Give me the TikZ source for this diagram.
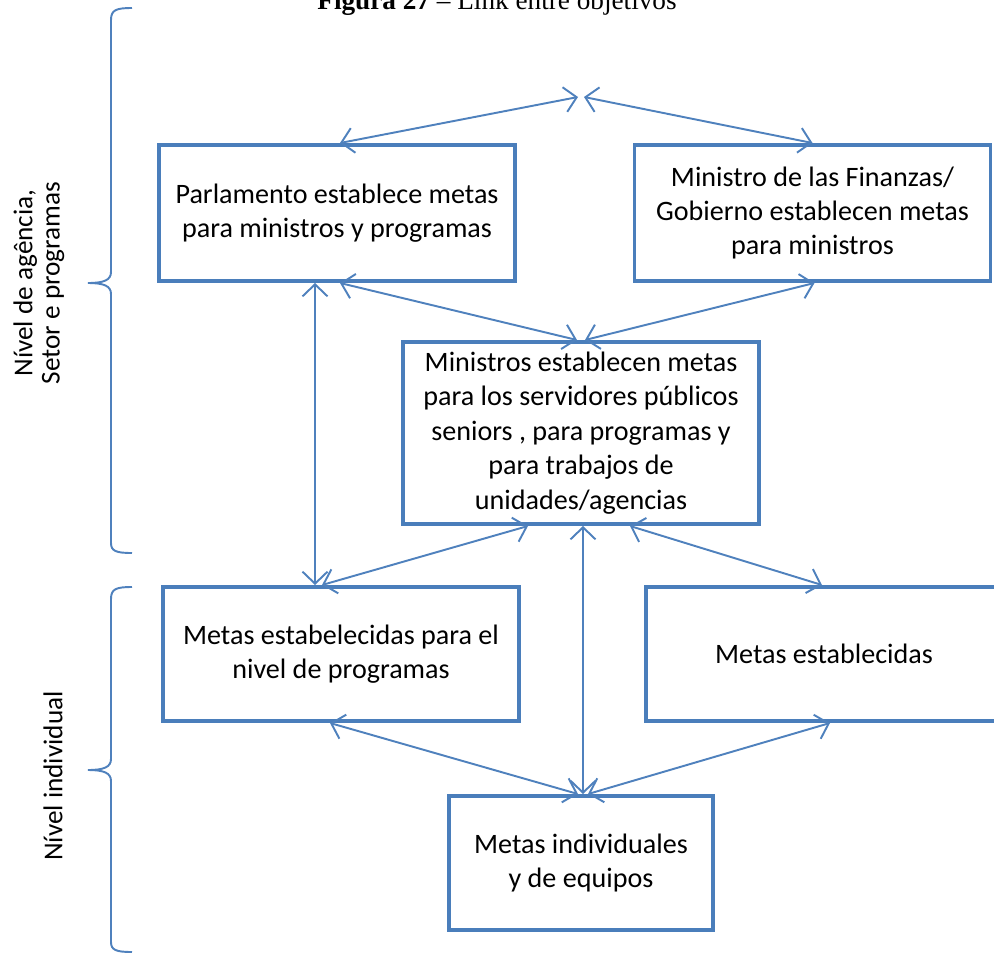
\documentclass[tikz,border=0pt]{standalone}
\usepackage{fontspec}
\setmainfont{Carlito}
\newfontfamily\titlefont{Liberation Serif}
\usetikzlibrary{arrows.meta,calc}
\definecolor{boxblue}{HTML}{4A7EBB}
\definecolor{linkblue}{HTML}{4F81BD}
\tikzset{
  goal/.style={draw=boxblue, line width=2pt, minimum width=7.13cm, align=center,
    inner sep=0pt, font=\fontsize{16}{19.6}\selectfont},
  link/.style={draw=linkblue, line width=1.1pt,
    {Straight Barb[length=2.4mm,width=5mm]}-{Straight Barb[length=2.4mm,width=5mm]}},
  brace/.style={draw=linkblue, line width=1.1pt},
  levellabel/.style={rotate=90, align=center, font=\fontsize{15.5}{15.5}\selectfont}
}
\begin{document}
\begin{tikzpicture}[x=0.02cm, y=-0.02cm]
\useasboundingbox (0,0) rectangle (994,954);
\clip (0,0) rectangle (994,954);

% caption line at the top edge
\node[anchor=base, inner sep=0pt, font=\titlefont\fontsize{15.5}{18}\selectfont] (title)
  at (497,9) {\textbf{Figura 27} – Link entre objetivos};

% goal boxes
\node[goal, minimum height=2.73cm] (A) at (337,213)
  {Parlamento establece metas\\para ministros y programas};
\node[goal, minimum height=2.73cm] (B) at (812.5,213)
  {Ministro de las Finanzas/\\Gobierno establecen metas\\para ministros};
\node[goal, minimum height=3.65cm] (C) at (581,433)
  {Ministros establecen metas\\para los servidores públicos\\seniors , para programas y\\para trabajos de\\unidades/agencias};
\node[goal, minimum height=2.69cm] (D) at (341,654)
  {Metas estabelecidas para el\\nivel de programas};
\node[goal, minimum height=2.69cm] (E) at (824,654)
  {Metas establecidas};
\node[goal, minimum height=2.69cm, minimum width=5.29cm] (F) at (581,863)
  {Metas individuales\\y de equipos};

% apex where the two top links meet
\coordinate (apex) at (581,97);

% links
\draw[link] ($(A.north)+(3,0)$) -- ($(apex)+(-3,0)$);
\draw[link] (B.north) -- ($(apex)+(3,0)$);
\draw[link] ($(A.south)+(3,0)$) -- ($(C.north)+(-4,0)$);
\draw[link] ($(B.south)+(2,0)$) -- ($(C.north)+(4,0)$);
\draw[link] ($(A.south)+(-22,0)$) -- ($(D.north)+(-26,0)$);
\draw[link] ($(C.south)+(-53,0)$) -- ($(D.north)+(-19,0)$);
\draw[link] ($(C.south)+(2,0)$) -- ($(F.north)+(2,0)$);
\draw[link] ($(C.south)+(49,0)$) -- ($(E.north)+(-2,0)$);
\draw[link] ($(D.south)+(-11,0)$) -- ($(F.north)+(-3,0)$);
\draw[link] ($(E.south)+(6,0)$) -- ($(F.north)+(7,0)$);

% level braces
\draw[brace] (132,8) .. controls (116,8) and (111,10) .. (111,20) -- (111,272)
  .. controls (111,280) and (104,283) .. (88,283)
  .. controls (104,283) and (111,286) .. (111,294) -- (111,543)
  .. controls (111,551) and (116,553) .. (132,553);
\draw[brace] (132,587) .. controls (116,587) and (111,589) .. (111,599) -- (111,759)
  .. controls (111,767) and (104,770) .. (88,770)
  .. controls (104,770) and (111,773) .. (111,781) -- (111,942)
  .. controls (111,950) and (116,952) .. (132,952);

% level labels
\node[levellabel] (upper) at (39,283) {Nível de agência,\\Setor e programas};
\node[levellabel] (lower) at (53,776) {Nível individual};
\end{tikzpicture}
\end{document}
